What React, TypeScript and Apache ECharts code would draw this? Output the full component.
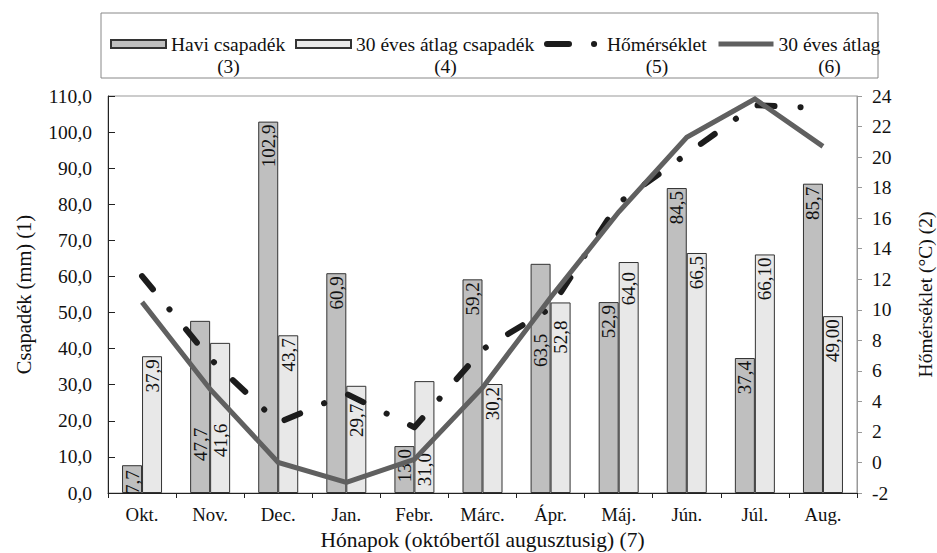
import React, { useEffect, useRef } from 'react';
import * as echarts from 'echarts';

// ---- data ----
const months = ['Okt.', 'Nov.', 'Dec.', 'Jan.', 'Febr.', 'Márc.', 'Ápr.', 'Máj.', 'Jún.', 'Júl.', 'Aug.'];
const haviCsapadek = [7.7, 47.7, 102.9, 60.9, 13.0, 59.2, 63.5, 52.9, 84.5, 37.4, 85.7];
const atlagCsapadek = [37.9, 41.6, 43.7, 29.7, 31.0, 30.2, 52.8, 64.0, 66.5, 66.1, 49.0];
const atlagCsapadekLabels = ['37,9', '41,6', '43,7', '29,7', '31,0', '30,2', '52,8', '64,0', '66,5', '66,10', '49,00'];
const homerseklet = [12.2, 6.8, 2.6, 4.5, 2.3, 7.4, 10.1, 17.0, 20.2, 23.4, 23.2];
const atlagHomerseklet = [10.5, 4.8, 0.0, -1.3, 0.2, 4.9, 10.8, 16.4, 21.3, 23.8, 20.7];
const seriesNames = ['Havi csapadék', '30 éves átlag csapadék', 'Hőmérséklet', '30 éves átlag'];
const seriesNumbers = ['(3)', '(4)', '(5)', '(6)'];
const leftAxisName = 'Csapadék (mm) (1)';
const rightAxisName = 'Hőmérséklet (°C) (2)';
const xAxisName = 'Hónapok (októbertől augusztusig) (7)';

// ---- label layout (extra downward shift of bar value labels, px) ----
const haviLabelShift = [2, 104, 0, 0, 0, 0, 67, 0, 0, 0, 0];
const atlagLabelShift = [0, 78, 0, 15, 69, 0, 15, 7, 0, 0, 0];

const FONT = '"Liberation Serif", "Times New Roman", serif';
const LEGEND_FS = 19.5;
const TEMP_COLOR = '#1c1c1c';
const AVG_COLOR = '#606060';
const TEMP_DASH = [17, 26, 0.1, 26];

const fmt1 = (v: number) => v.toFixed(1).replace('.', ',');

export default function App() {
  const ref = useRef<HTMLDivElement>(null);

  useEffect(() => {
    if (!ref.current) return;
    const chart = echarts.init(ref.current, null, { renderer: 'svg' });

    const ctx = document.createElement('canvas').getContext('2d')!;
    ctx.font = `${LEGEND_FS}px ${FONT}`;
    const rich: any = {
      e: { fontFamily: FONT, fontSize: LEGEND_FS, lineHeight: 22 },
      a: { fontFamily: FONT, fontSize: LEGEND_FS, lineHeight: 22, color: '#111' },
    };
    seriesNames.forEach((n, i) => {
      rich['b' + i] = {
        fontFamily: FONT,
        fontSize: LEGEND_FS,
        lineHeight: 22,
        color: '#111',
        width: Math.ceil(ctx.measureText(n).width),
        align: 'center',
      };
    });

    const barLabel = {
      show: true,
      position: 'insideTop',
      rotate: 90,
      align: 'right',
      verticalAlign: 'middle',
      distance: 3,
      fontFamily: FONT,
      fontSize: 19,
      color: '#111',
    };

    const option: any = {
      animation: false,
      backgroundColor: '#fff',
      textStyle: { fontFamily: FONT },
      graphic: [
        {
          type: 'rect',
          shape: { x: 101, y: 13, width: 777, height: 65 },
          style: { fill: 'none', stroke: '#888', lineWidth: 1 },
          z: -1,
        },
      ],
      legend: {
        left: 110,
        top: 12,
        padding: 0,
        itemGap: 9,
        itemWidth: 55,
        itemHeight: 8,
        data: [
          { name: seriesNames[0], icon: 'rect' },
          { name: seriesNames[1], icon: 'rect' },
          {
            name: seriesNames[2],
            itemStyle: { color: TEMP_COLOR, opacity: 0 },
            lineStyle: { color: TEMP_COLOR, width: 6, type: [22, 25, 0.1, 30], cap: 'round' },
          },
          {
            name: seriesNames[3],
            itemStyle: { color: AVG_COLOR, opacity: 0 },
            lineStyle: { color: AVG_COLOR, width: 5 },
          },
        ],
        formatter: (name: string) => {
          const i = seriesNames.indexOf(name);
          return `{e| }\n{a|${name}}\n{b${i}|${seriesNumbers[i]}}`;
        },
        textStyle: { fontFamily: FONT, fontSize: LEGEND_FS, color: '#111', rich },
      },
      grid: {
        left: 108,
        right: 80,
        top: 96,
        bottom: 60,
        show: true,
        borderColor: '#999',
        borderWidth: 1,
        containLabel: false,
        outerBoundsMode: 'none',
      },
      xAxis: {
        type: 'category',
        data: months,
        boundaryGap: true,
        name: xAxisName,
        nameLocation: 'middle',
        nameGap: 35,
        nameTextStyle: { fontFamily: FONT, fontSize: 21.5, color: '#111' },
        axisLine: { lineStyle: { color: '#222', width: 1 } },
        axisTick: { show: true, length: 5, lineStyle: { color: '#222' } },
        axisLabel: { fontFamily: FONT, fontSize: 18.8, color: '#111', margin: 12 },
      },
      yAxis: [
        {
          type: 'value',
          min: 0,
          max: 110,
          interval: 10,
          name: leftAxisName,
          nameLocation: 'middle',
          nameRotate: 90,
          nameGap: 74,
          nameTextStyle: { fontFamily: FONT, fontSize: 20.5, color: '#111' },
          axisLine: { show: true, lineStyle: { color: '#222', width: 1 } },
          axisTick: { show: true, inside: true, length: 7, lineStyle: { color: '#222' } },
          axisLabel: {
            fontFamily: FONT,
            fontSize: 19.5,
            color: '#111',
            margin: 16,
            formatter: (v: number) => fmt1(v),
          },
          splitLine: { show: false },
        },
        {
          type: 'value',
          min: -2,
          max: 24,
          interval: 2,
          position: 'right',
          name: rightAxisName,
          nameLocation: 'middle',
          nameRotate: 90,
          nameGap: 58,
          nameTextStyle: { fontFamily: FONT, fontSize: 19.5, color: '#111' },
          axisLine: { show: true, lineStyle: { color: '#999', width: 1 } },
          axisTick: { show: true, inside: false, length: 5, lineStyle: { color: '#999' } },
          axisLabel: { fontFamily: FONT, fontSize: 19.5, color: '#111', margin: 15 },
          splitLine: { show: false },
        },
      ],
      series: [
        {
          name: seriesNames[0],
          type: 'bar',
          barWidth: 20,
          barGap: '0%',
          itemStyle: { color: '#bfbfbf', borderColor: '#333', borderWidth: 1 },
          label: { ...barLabel, formatter: (p: any) => fmt1(p.value) },
          data: haviCsapadek.map((v, i) => ({ value: v, label: { offset: [-haviLabelShift[i], 0] } })),
          z: 2,
        },
        {
          name: seriesNames[1],
          type: 'bar',
          barWidth: 20,
          barGap: '0%',
          itemStyle: { color: '#e8e8e8', borderColor: '#333', borderWidth: 1 },
          label: { ...barLabel, formatter: (p: any) => atlagCsapadekLabels[p.dataIndex] },
          data: atlagCsapadek.map((v, i) => ({ value: v, label: { offset: [-atlagLabelShift[i], 0] } })),
          z: 2,
        },
        {
          name: seriesNames[2],
          type: 'line',
          yAxisIndex: 1,
          data: homerseklet,
          symbol: 'none',
          itemStyle: { color: TEMP_COLOR },
          lineStyle: { color: TEMP_COLOR, width: 6, type: TEMP_DASH, cap: 'round', join: 'round' },
          z: 3,
        },
        {
          name: seriesNames[3],
          type: 'line',
          yAxisIndex: 1,
          data: atlagHomerseklet,
          symbol: 'none',
          itemStyle: { color: AVG_COLOR },
          lineStyle: { color: AVG_COLOR, width: 5, join: 'miter' },
          z: 4,
        },
      ],
    };

    chart.setOption(option);
    return () => chart.dispose();
  }, []);

  return (
    <div
      ref={ref}
      style={{ position: 'fixed', left: 0, top: 0, width: 937, height: 553, background: '#fff' }}
    />
  );
}
